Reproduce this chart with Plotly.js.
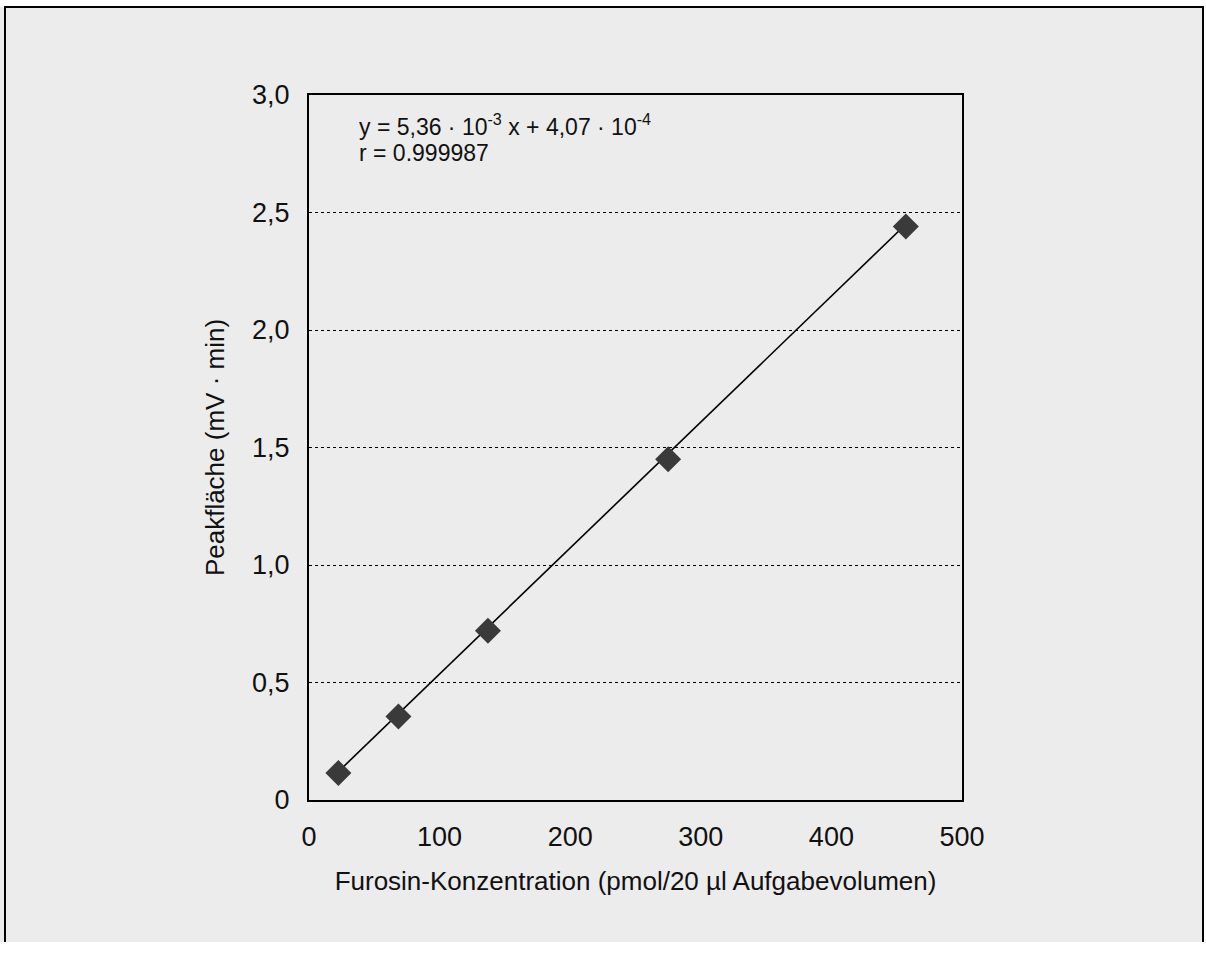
<!DOCTYPE html>
<html>
<head>
<meta charset="utf-8">
<script src="https://cdn.plot.ly/plotly-3.0.1.min.js"></script>
<style>html,body{margin:0;padding:0;background:#fff;}#chart{width:1206px;height:954px;}</style>
</head>
<body>
<div id="chart"></div>
<script>
// Data
var concentration = [22.5, 68.5, 137, 275, 457];      // pmol / 20 µl
var peakArea = [0.115, 0.355, 0.72, 1.45, 2.44];      // mV · min
var fitSlope = 5.36e-3;
var fitIntercept = 4.07e-4;
var xTickVals = [0, 100, 200, 300, 400, 500];
var xTickText = ['0', '100', '200', '300', '400', '500'];
var yTickVals = [0, 0.5, 1.0, 1.5, 2.0, 2.5, 3.0];
var yTickText = ['0', '0,5', '1,0', '1,5', '2,0', '2,5', '3,0'];
var xTitle = 'Furosin-Konzentration (pmol/20 µl Aufgabevolumen)';
var yTitle = 'Peakfläche (mV · min)';
var eqLine1 = 'y = 5,36 · 10<sup>-3</sup> x + 4,07 · 10<sup>-4</sup>';
var eqLine2 = 'r = 0.999987';

var xMin = Math.min.apply(null, concentration);
var xMax = Math.max.apply(null, concentration);
var fitX = [xMin, xMax];
var fitY = fitX.map(function (v) { return fitSlope * v + fitIntercept; });

var font = 'Liberation Sans, Arial, sans-serif';

var traces = [
  {x: fitX, y: fitY, mode: 'lines', type: 'scatter',
   line: {color: '#000', width: 1.6}, hoverinfo: 'skip', showlegend: false},
  {x: concentration, y: peakArea, mode: 'markers', type: 'scatter',
   marker: {symbol: 'diamond', size: 20, color: '#3a3a3a', line: {width: 0}}, showlegend: false}
];

var layout = {
  width: 1206, height: 954,
  paper_bgcolor: '#ffffff',
  plot_bgcolor: 'rgba(0,0,0,0)',
  margin: {l: 309, r: 244, t: 95, b: 154},
  font: {family: font, color: '#111'},
  showlegend: false,
  xaxis: {
    range: [0, 500], tickvals: xTickVals, ticktext: xTickText,
    showgrid: false, zeroline: false, showline: true, mirror: true,
    linecolor: '#000', linewidth: 2, ticks: '', ticklabelstandoff: 12,
    tickfont: {size: 27, family: font, color: '#111'},
    title: {text: xTitle, font: {size: 26, family: font, color: '#111'}, standoff: 20}
  },
  yaxis: {
    range: [0, 3], tickvals: yTickVals, ticktext: yTickText,
    showgrid: true, gridcolor: '#000', gridwidth: 1, griddash: 'dot',
    zeroline: false, showline: true, mirror: true,
    linecolor: '#000', linewidth: 2, ticks: '', ticklabelstandoff: 12,
    tickfont: {size: 27, family: font, color: '#111'},
    title: {text: yTitle, font: {size: 26, family: font, color: '#111'}, standoff: 20}
  },
  annotations: [
    {xref: 'paper', yref: 'paper', x: 0.0735, y: 0.957, xanchor: 'left', yanchor: 'middle',
     align: 'left', showarrow: false, text: eqLine1,
     font: {size: 23, family: font, color: '#111'}},
    {xref: 'paper', yref: 'paper', x: 0.0735, y: 0.9175, xanchor: 'left', yanchor: 'middle',
     align: 'left', showarrow: false, text: eqLine2,
     font: {size: 23, family: font, color: '#111'}}
  ],
  shapes: [
    {type: 'rect', xref: 'paper', yref: 'paper', layer: 'below',
     x0: -309/653, x1: (1203-309)/653, y0: -(942-800)/705, y1: (800-7)/705,
     fillcolor: '#ececec', line: {width: 0}},
    {type: 'path', xref: 'paper', yref: 'paper', layer: 'above',
     path: 'M ' + (-304/653) + ' ' + (-(942-800)/705) + ' L ' + (-304/653) + ' ' + ((800-7)/705) +
           ' L ' + ((1203-309)/653) + ' ' + ((800-7)/705) + ' L ' + ((1203-309)/653) + ' ' + (-(942-800)/705),
     line: {color: '#000', width: 2}}
  ]
};

Plotly.newPlot('chart', traces, layout, {displayModeBar: false, staticPlot: true});
</script>
</body>
</html>
